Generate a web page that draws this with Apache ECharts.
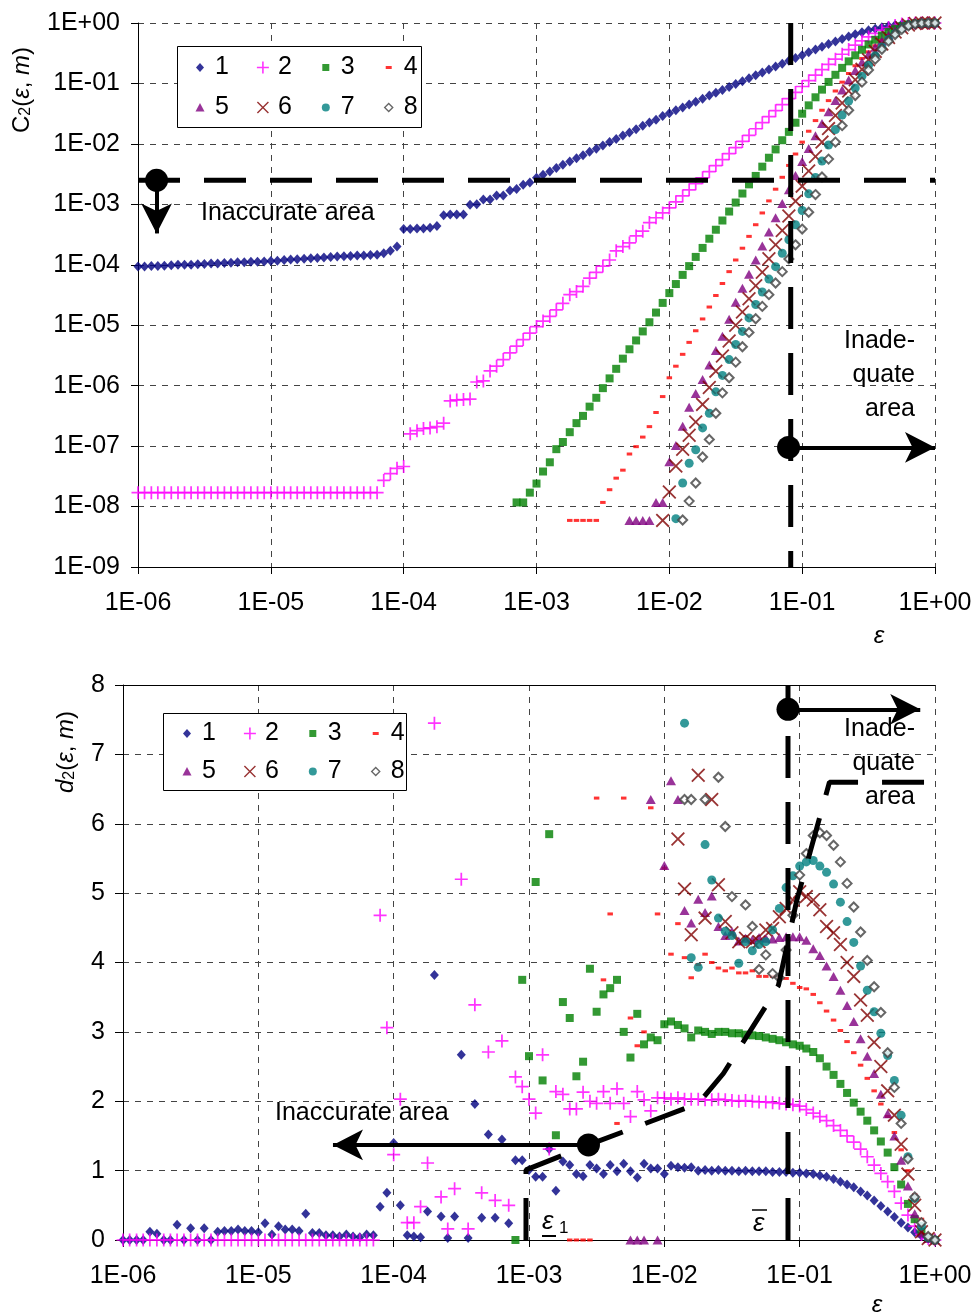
<!DOCTYPE html>
<html><head><meta charset="utf-8">
<script src="https://cdn.jsdelivr.net/npm/echarts@6/dist/echarts.min.js"></script>
<style>html,body{margin:0;padding:0;background:#fff}#c{width:977px;height:1315px}</style>
</head><body><div id="c"></div>
<script>
// ---- shared epsilon grid (20 points per decade) ----
const EPS = [
 1.00e-6,1.12e-6,1.26e-6,1.41e-6,1.58e-6,1.78e-6,2.00e-6,2.24e-6,2.51e-6,2.82e-6,3.16e-6,3.55e-6,3.98e-6,4.47e-6,5.01e-6,5.62e-6,6.31e-6,7.08e-6,7.94e-6,8.91e-6,
 1.00e-5,1.12e-5,1.26e-5,1.41e-5,1.58e-5,1.78e-5,2.00e-5,2.24e-5,2.51e-5,2.82e-5,3.16e-5,3.55e-5,3.98e-5,4.47e-5,5.01e-5,5.62e-5,6.31e-5,7.08e-5,7.94e-5,8.91e-5,
 1.00e-4,1.12e-4,1.26e-4,1.41e-4,1.58e-4,1.78e-4,2.00e-4,2.24e-4,2.51e-4,2.82e-4,3.16e-4,3.55e-4,3.98e-4,4.47e-4,5.01e-4,5.62e-4,6.31e-4,7.08e-4,7.94e-4,8.91e-4,
 1.00e-3,1.12e-3,1.26e-3,1.41e-3,1.58e-3,1.78e-3,2.00e-3,2.24e-3,2.51e-3,2.82e-3,3.16e-3,3.55e-3,3.98e-3,4.47e-3,5.01e-3,5.62e-3,6.31e-3,7.08e-3,7.94e-3,8.91e-3,
 1.00e-2,1.12e-2,1.26e-2,1.41e-2,1.58e-2,1.78e-2,2.00e-2,2.24e-2,2.51e-2,2.82e-2,3.16e-2,3.55e-2,3.98e-2,4.47e-2,5.01e-2,5.62e-2,6.31e-2,7.08e-2,7.94e-2,8.91e-2,
 0.100,0.112,0.126,0.141,0.158,0.178,0.200,0.224,0.251,0.282,0.316,0.355,0.398,0.447,0.501,0.562,0.631,0.708,0.794,0.891,
 1.00];
const NAMES = ['1','2','3','4','5','6','7','8'];

// ---- top chart: C2(eps, m) ----
const c2_1_start = 0;
const c2_1 = [
 9.4e-5,9.4e-5,9.5e-5,9.5e-5,9.6e-5,9.8e-5,1.0e-4,1.0e-4,1.0e-4,1.02e-4,
 1.03e-4,1.05e-4,1.05e-4,1.07e-4,1.08e-4,1.1e-4,1.1e-4,1.12e-4,1.12e-4,1.13e-4,
 1.15e-4,1.17e-4,1.2e-4,1.22e-4,1.24e-4,1.26e-4,1.28e-4,1.3e-4,1.32e-4,1.35e-4,
 1.37e-4,1.38e-4,1.4e-4,1.42e-4,1.43e-4,1.45e-4,1.47e-4,1.55e-4,1.7e-4,2.0e-4,
 3.9e-4,3.9e-4,4.0e-4,4.0e-4,4.1e-4,4.4e-4,6.6e-4,6.8e-4,6.8e-4,6.8e-4,
 9.8e-4,1.0e-3,1.2e-3,1.2e-3,1.4e-3,1.4e-3,1.7e-3,1.8e-3,2.1e-3,2.3e-3,
 2.75e-3,3.1e-3,3.5e-3,4.0e-3,4.5e-3,5.1e-3,5.8e-3,6.5e-3,7.4e-3,8.3e-3,
 9.4e-3,1.07e-2,1.2e-2,1.38e-2,1.55e-2,1.75e-2,2.0e-2,2.25e-2,2.5e-2,2.9e-2,
 3.2e-2,3.6e-2,4.0e-2,4.5e-2,5.0e-2,5.6e-2,6.3e-2,7.0e-2,7.8e-2,8.75e-2,
 9.8e-2,0.109,0.122,0.136,0.152,0.17,0.19,0.212,0.237,0.264,
 0.292,0.327,0.364,0.405,0.449,0.495,0.546,0.597,0.652,0.705,
 0.757,0.807,0.853,0.893,0.927,0.955,0.975,0.989,0.997,1.0,
 1.0];
const c2_2_start = 0;
const c2_2 = [
 1.7e-8,1.7e-8,1.7e-8,1.7e-8,1.7e-8,1.7e-8,1.7e-8,1.7e-8,1.7e-8,1.7e-8,
 1.7e-8,1.7e-8,1.7e-8,1.7e-8,1.7e-8,1.7e-8,1.7e-8,1.7e-8,1.7e-8,1.7e-8,
 1.7e-8,1.7e-8,1.7e-8,1.7e-8,1.7e-8,1.7e-8,1.7e-8,1.7e-8,1.7e-8,1.7e-8,
 1.7e-8,1.7e-8,1.7e-8,1.7e-8,1.7e-8,1.7e-8,1.7e-8,2.7e-8,3.5e-8,4.3e-8,
 4.6e-8,1.6e-7,1.8e-7,1.95e-7,2.0e-7,2.1e-7,2.4e-7,5.6e-7,5.8e-7,5.9e-7,
 6.0e-7,1.15e-6,1.2e-6,1.75e-6,2.1e-6,2.7e-6,3.5e-6,4.5e-6,5.8e-6,7.4e-6,
 9.5e-6,1.17e-5,1.4e-5,1.8e-5,2.3e-5,3.2e-5,3.6e-5,4.4e-5,6.0e-5,7.5e-5,
 9.5e-5,1.2e-4,1.7e-4,2.0e-4,2.3e-4,3.0e-4,3.6e-4,5.0e-4,6.0e-4,7.2e-4,
 8.7e-4,1.1e-3,1.38e-3,1.74e-3,2.19e-3,2.75e-3,3.47e-3,4.37e-3,5.5e-3,6.9e-3,
 8.7e-3,1.1e-2,1.38e-2,1.78e-2,2.24e-2,2.82e-2,3.55e-2,4.47e-2,5.6e-2,7.1e-2,
 8.9e-2,0.111,0.137,0.169,0.207,0.252,0.304,0.363,0.43,0.506,
 0.587,0.673,0.759,0.841,0.912,0.959,0.984,0.995,1,1,
 1];
const c2_3_start = 57;
const c2_3 = [
 1.17e-8,1.17e-8,1.7e-8,2.4e-8,3.8e-8,5.4e-8,8.9e-8,1.17e-7,1.7e-7,2.4e-7,
 3.16e-7,4.5e-7,6.3e-7,9.1e-7,1.32e-6,1.9e-6,2.8e-6,4.0e-6,5.6e-6,7.9e-6,
 1.12e-5,1.62e-5,2.34e-5,3.4e-5,4.8e-5,6.8e-5,9.5e-5,1.35e-4,1.9e-4,2.7e-4,
 3.8e-4,5.4e-4,7.6e-4,1.07e-3,1.51e-3,2.14e-3,2.95e-3,4.2e-3,5.9e-3,8.1e-3,
 1.15e-2,1.58e-2,2.24e-2,3.16e-2,4.34e-2,5.9e-2,7.9e-2,0.106,0.139,0.181,
 0.232,0.292,0.361,0.442,0.528,0.622,0.716,0.805,0.885,0.948,
 0.984,0.998,1,1];
const c2_4_start = 65;
const c2_4 = [
 5.9e-9,5.9e-9,5.9e-9,5.9e-9,5.9e-9,1.17e-8,1.9e-8,2.95e-8,4.0e-8,7.4e-8,
 9.8e-8,1.41e-7,2.1e-7,3.6e-7,6.6e-7,1.35e-6,2.1e-6,3.3e-6,5.2e-6,8.1e-6,
 1.27e-5,2.0e-5,3.1e-5,4.9e-5,7.7e-5,1.2e-4,1.88e-4,2.95e-4,4.6e-4,7.2e-4,
 1.14e-3,1.78e-3,2.8e-3,4.4e-3,6.8e-3,1.07e-2,1.62e-2,2.43e-2,3.6e-2,5.2e-2,
 7.5e-2,0.105,0.146,0.196,0.259,0.333,0.42,0.516,0.618,0.718,
 0.809,0.887,0.946,0.98,0.993,1];
const c2_5_start = 74;
const c2_5 = [
 5.9e-9,5.9e-9,5.9e-9,5.9e-9,1.17e-8,1.17e-8,5.5e-8,1.02e-7,2.14e-7,4.4e-7,
 7.4e-7,1.26e-6,2.2e-6,3.8e-6,6.6e-6,1.26e-5,2.4e-5,4.1e-5,7.0e-5,1.2e-4,
 2.05e-4,3.5e-4,6.0e-4,1.03e-3,1.75e-3,3.0e-3,5.1e-3,8.4e-3,1.36e-2,2.18e-2,
 3.4e-2,5.2e-2,7.8e-2,0.114,0.163,0.226,0.304,0.396,0.505,0.625,
 0.746,0.857,0.94,0.984,0.995,1,1];
const c2_6_start = 79;
const c2_6 = [
 5.9e-9,1.74e-8,4.7e-8,8.9e-8,1.51e-7,2.5e-7,4.9e-7,9.3e-7,1.74e-6,3.1e-6,
 5.5e-6,1.0e-5,1.66e-5,2.75e-5,4.5e-5,7.5e-5,1.26e-4,2.15e-4,3.7e-4,6.4e-4,
 1.13e-3,2.0e-3,3.55e-3,6.2e-3,1.07e-2,1.79e-2,2.95e-2,4.76e-2,7.5e-2,0.115,
 0.171,0.247,0.339,0.45,0.575,0.708,0.832,0.929,0.984,1,
 1,1];
const c2_7_start = 81;
const c2_7 = [
 6.3e-9,2.45e-8,5.2e-8,8.7e-8,2.0e-7,3.5e-7,7.9e-7,1.48e-6,2.7e-6,4.8e-6,
 7.9e-6,1.32e-5,2.2e-5,3.55e-5,5.8e-5,9.3e-5,1.55e-4,2.6e-4,4.6e-4,7.9e-4,
 1.49e-3,2.79e-3,5.2e-3,9.6e-3,1.73e-2,3.0e-2,5.1e-2,8.4e-2,0.132,0.20,
 0.288,0.40,0.531,0.673,0.809,0.908,0.966,0.989,0.996,1];
const c2_8_start = 82;
const c2_8 = [
 6.0e-9,1.23e-8,2.45e-8,6.6e-8,1.29e-7,3.5e-7,7.6e-7,1.35e-6,2.45e-6,4.4e-6,
 7.6e-6,1.28e-5,2.05e-5,3.2e-5,5.0e-5,7.7e-5,1.25e-4,2.14e-4,3.9e-4,7.4e-4,
 1.45e-3,2.84e-3,5.6e-3,1.07e-2,2.0e-2,3.6e-2,6.3e-2,0.105,0.167,0.252,
 0.367,0.50,0.646,0.785,0.897,0.964,0.991,0.998,1];

// ---- bottom chart: d2(eps, m) ----
const d2_1_start = 0;
const d2_1 = [
 0,0,0,0,0.12,0.09,0,0,0.22,0,
 0.17,0,0.17,0,0.12,0.13,0.13,0.15,0.13,0.13,
 0.11,0.24,0.08,0.2,0.15,0.15,0.13,0.38,0.1,0.1,
 0.07,0.07,0.05,0.08,0.05,0.04,0.08,0.07,0.48,0.68,
 1.4,0.5,0.07,0.05,0.04,0.41,3.82,0.34,0.03,0.34,
 2.67,0.03,1.96,0.32,1.52,0.32,1.45,0.24,1.15,1.15,
 1.01,0.91,0.91,1.31,0.71,1.13,1.08,0.95,0.92,1.08,
 1.03,0.95,1.08,0.99,1.1,0.99,0.9,1.1,1.03,1.03,
 0.95,1.07,1.05,1.04,1.05,1.0,1.01,1.0,1.01,1.0,
 1.0,0.99,1.0,0.99,0.99,0.99,0.98,0.98,0.98,0.97,
 0.97,0.96,0.95,0.93,0.91,0.88,0.84,0.8,0.76,0.7,
 0.64,0.57,0.49,0.41,0.33,0.25,0.18,0.11,0.06,0.02,
 0];
const d2_2_start = 0;
const d2_2 = [
 0,0,0,0,0,0,0,0,0,0,
 0,0,0,0,0,0,0,0,0,0,
 0,0,0,0,0,0,0,0,0,0,
 0,0,0,0,0,0,0,0,4.68,3.06,
 1.23,2.03,0.25,0.25,0.48,1.11,7.45,0.62,0.16,0.74,
 5.2,0.16,3.39,0.68,2.71,0.57,2.87,0.5,2.35,2.21,
 2.03,1.83,2.67,1.31,2.14,2.1,1.89,1.89,2.13,2.0,
 1.97,2.14,1.97,2.18,1.97,1.78,2.14,2.02,1.86,2.05,
 2.05,2.03,2.05,2.03,2.03,2.03,2.02,2.02,2.03,2.02,
 2.01,2.0,2.01,2.0,1.99,1.99,1.98,1.97,1.96,1.95,
 1.93,1.88,1.83,1.78,1.72,1.65,1.58,1.5,1.41,1.31,
 1.2,1.08,0.96,0.84,0.7,0.53,0.36,0.2,0.08,0.02,
 0];
const d2_3_start = 58;
const d2_3 = [
 0,3.75,2.65,5.16,2.3,5.85,1.51,3.43,3.2,2.36,
 2.57,3.91,3.29,3.54,3.63,3.75,3.0,2.63,3.26,2.82,
 2.92,2.88,3.11,3.15,3.1,3.05,2.92,3.02,3.0,2.97,
 3.0,3.0,2.98,2.98,2.96,2.95,2.94,2.92,2.9,2.88,
 2.85,2.82,2.8,2.76,2.71,2.62,2.5,2.38,2.25,2.12,
 1.98,1.85,1.72,1.58,1.42,1.26,1.05,0.8,0.52,0.3,
 0.12,0.03,0];
const d2_4_start = 66;
const d2_4 = [
 0,0,0,0,
 6.37,3.75,4.7,1.68,6.37,3.2,2.8,3.0,6.23,4.7,
 5.36,4.12,4.56,4.07,3.78,3.97,4.12,4.0,3.92,3.88,
 3.92,3.85,3.85,3.88,3.8,3.8,3.8,3.78,3.77,3.7,
 3.64,3.62,3.54,3.42,3.3,3.17,3.02,2.86,2.7,2.52,
 2.33,2.15,1.96,1.78,1.55,1.3,1.0,0.65,0.3,0.08,
 0];
const d2_5_start = 75;
const d2_5 = [
 0,0,0,6.35,0,
 5.4,6.62,6.35,4.75,4.57,4.91,4.72,4.96,4.52,4.39,
 4.45,4.31,4.35,4.33,4.36,4.35,4.34,4.36,4.37,4.37,
 4.37,4.32,4.2,4.1,3.95,3.8,3.6,3.38,3.15,2.9,
 2.65,2.4,2.1,1.82,1.5,1.15,0.78,0.38,0.1,0.02,
 0];
const d2_6_start = 82;
const d2_6 = [
 5.78,5.06,4.4,6.7,4.64,6.35,5.12,4.59,4.43,4.3,
 4.35,4.3,4.3,4.47,4.49,4.66,4.78,4.9,5.02,4.95,
 4.9,4.76,4.52,4.43,4.26,4.0,3.8,3.46,3.24,2.85,
 2.5,2.15,1.8,1.38,0.95,0.5,0.12,0.02,0];
const d2_7_start = 83;
const d2_7 = [
 7.45,4.07,3.93,5.7,5.19,4.64,4.45,4.39,3.99,4.3,
 4.17,4.26,4.3,4.47,4.78,5.08,5.25,5.39,5.45,5.47,
 5.39,5.3,5.13,4.87,4.59,4.29,3.95,3.6,3.29,2.98,
 2.66,2.3,1.8,1.2,0.6,0.2,0.03,0];
const d2_8_start = 83;
const d2_8 = [
 6.35,6.35,null,6.35,null,6.67,5.96,4.95,null,4.83,
 4.52,3.9,4.11,3.84,3.78,4.18,4.68,5.26,5.57,5.83,
 5.87,5.83,5.69,5.45,5.14,4.8,4.44,4.03,3.65,3.28,
 2.7,2.2,1.68,1.17,0.62,0.25,0.05,0];

// ---- annotation values (data coordinates) ----
const EPS_BAR = 0.082;            // vertical dashed line (eps bar)
const EPS_1 = 9.5e-4;             // eps_1
const C2_LIMIT = 2.5e-3;          // horizontal dashed line on top chart
const kneeLine = [[EPS_1,0],[EPS_1,1.01],[2.75e-3,1.37],[1.79e-2,1.97],[2.73e-2,2.40],[5.88e-2,3.43],[6.97e-2,3.67],[9.53e-2,4.9],[0.166,6.6],[1,6.6]];

const FONT = "'Liberation Sans', Arial, Helvetica, sans-serif";
const COLORS = ['#000080','#FF00FF','#008000','#FF0000','#800080','#800000','#008080','#404040'];
const PLUS = 'path://M5.2,0H6.8V5.2H12V6.8H6.8V12H5.2V6.8H0V5.2H5.2Z';
const CROSS = 'path://M0,1.1L1.1,0L6,4.9L10.9,0L12,1.1L7.1,6L12,10.9L10.9,12L6,7.1L1.1,12L0,10.9L4.9,6Z';
const SYMBOLS = ['diamond', PLUS, 'rect', 'rect', 'triangle', CROSS, 'circle', 'emptyDiamond'];
const SIZES = [[9,10], 13, 8, [5.5,3], [10,9], 14, 9, 9];
const ICONS = [
 'path://M0,0M20,20M10,5.5L14,10L10,14.5L6,10Z',
 'path://M0,0M20,20M9.2,4H10.8V9.2H16V10.8H10.8V16H9.2V10.8H4V9.2H9.2Z',
 'path://M0,0M20,20M6.5,6.5H13.5V13.5H6.5Z',
 'path://M0,0M20,20M7,8.5H13V11.5H7Z',
 'path://M0,0M20,20M10,5.5L14.5,14L5.5,14Z',
 'path://M0,0M20,20M4,5L5,4L10,9L15,4L16,5L11,10L16,15L15,16L10,11L5,16L4,15L9,10Z',
 'path://M0,0M20,20M14,10A4,4,0,1,1,6,10A4,4,0,1,1,14,10Z',
 'path://M0,0M20,20M10,5L15,10L10,15L5,10ZM10,6.9L6.9,10L10,13.1L13.1,10Z'
];

const TOP = [[c2_1_start,c2_1],[c2_2_start,c2_2],[c2_3_start,c2_3],[c2_4_start,c2_4],[c2_5_start,c2_5],[c2_6_start,c2_6],[c2_7_start,c2_7],[c2_8_start,c2_8]];
const BOT = [[d2_1_start,d2_1],[d2_2_start,d2_2],[d2_3_start,d2_3],[d2_4_start,d2_4],[d2_5_start,d2_5],[d2_6_start,d2_6],[d2_7_start,d2_7],[d2_8_start,d2_8]];

function pts(start, arr) {
  const out = [];
  arr.forEach((v, k) => { const x = EPS[start + k]; if (v !== null && x !== undefined) out.push([x, v]); });
  return out;
}
function fmtE(v) {
  const e = Math.round(Math.log10(v));
  return '1E' + (e < 0 ? '-' : '+') + String(Math.abs(e)).padStart(2, '0');
}

const gridLine = { show: true, lineStyle: { color: '#444', width: 1, type: [6, 6] } };
const labelStyle = { color: '#000', fontSize: 25, fontFamily: FONT };

function logX(gridIndex) {
  return {
    type: 'log', logBase: 10, gridIndex, min: 1e-6, max: 1, splitNumber: 10,
    axisLine: { show: true, onZero: false, lineStyle: { color: '#000', width: 1 } },
    axisTick: { show: true, inside: false, length: 7, lineStyle: { color: '#000' } },
    minorTick: { show: false },
    axisLabel: Object.assign({ formatter: fmtE, margin: 24, showMinLabel: true, showMaxLabel: true, hideOverlap: false }, labelStyle),
    splitLine: Object.assign({ showMinLine: true, showMaxLine: true }, gridLine)
  };
}

const series = [];
for (let k = 0; k < 8; k++) {
  const common = { type: 'scatter', name: NAMES[k], symbol: SYMBOLS[k], symbolSize: SIZES[k],
    itemStyle: { color: COLORS[k] }, animation: false, silent: true, z: 2 + k * 0.01 };
  series.push(Object.assign({}, common, { xAxisIndex: 0, yAxisIndex: 0, data: pts(TOP[k][0], TOP[k][1]) }));
  series.push(Object.assign({}, common, { xAxisIndex: 1, yAxisIndex: 1, data: pts(BOT[k][0], BOT[k][1]) }));
}

const thick = { color: '#000', width: 5, type: [42, 24] };
const arrowStyle = { color: '#000', width: 4, type: 'solid' };
function arrowML(items) {
  return { silent: true, animation: false, symbol: ['circle', 'arrow'], symbolSize: [23, 30],
    label: { show: false }, lineStyle: arrowStyle, emphasis: { disabled: true }, data: items };
}
// top chart annotations
series.push({ type: 'line', xAxisIndex: 0, yAxisIndex: 0, data: [[1e-6, C2_LIMIT], [1, C2_LIMIT]], symbol: 'none',
  lineStyle: thick, z: 10, silent: true, animation: false,
  markLine: arrowML([
    [{ coord: [1.38e-6, C2_LIMIT] }, { coord: [1.38e-6, 3.3e-4] }],
    [{ coord: [0.079, 9.5e-8] }, { coord: [1.0, 9.5e-8] }]
  ]) });
series.push({ type: 'line', xAxisIndex: 0, yAxisIndex: 0, data: [[EPS_BAR, 1], [EPS_BAR, 1e-9]], symbol: 'none',
  lineStyle: thick, z: 10, silent: true, animation: false });
// bottom chart annotations
series.push({ type: 'line', xAxisIndex: 1, yAxisIndex: 1, data: [[EPS_BAR, 0], [EPS_BAR, 8]], symbol: 'none',
  lineStyle: thick, z: 10, silent: true, animation: false,
  markLine: arrowML([
    [{ coord: [EPS_BAR, 7.65] }, { coord: [0.778, 7.65] }],
    [{ coord: [2.75e-3, 1.37] }, { coord: [3.56e-5, 1.37] }]
  ]) });
series.push({ type: 'line', xAxisIndex: 1, yAxisIndex: 1, data: kneeLine, symbol: 'none',
  lineStyle: thick, z: 10, silent: true, animation: false });

function legendRow(names, iconIdx, left, top) {
  return {
    show: true, orient: 'horizontal', left, top, padding: 0, itemWidth: 20, itemHeight: 20, itemGap: 24,
    selectedMode: false, z: 6,
    itemStyle: { borderWidth: 0 },
    textStyle: { color: '#000', fontSize: 25, fontFamily: FONT },
    data: names.map((n, j) => ({ name: n, icon: ICONS[iconIdx + j] }))
  };
}

const richTitle = {
  a: { fontSize: 24, fontFamily: FONT, fill: '#000' },
  b: { fontSize: 16, fontFamily: FONT, fill: '#000', lineHeight: 12, verticalAlign: 'bottom' },
  c: { fontSize: 24, fontFamily: FONT, fontStyle: 'italic', fill: '#000' }
};
const txt = (x, y, text, extra) => ({ type: 'text', x, y, z: 30,
  style: Object.assign({ text, fill: '#000', fontSize: 25, fontFamily: FONT }, extra || {}) });

const option = {
  animation: false,
  backgroundColor: '#fff',
  grid: [
    { left: 138, top: 23, width: 797, height: 544, outerBoundsMode: 'none', containLabel: false },
    { left: 123, top: 685, width: 812, height: 555, outerBoundsMode: 'none', containLabel: false }
  ],
  xAxis: [
    logX(0),
    logX(1),
    { type: 'log', logBase: 10, gridIndex: 1, position: 'top', min: 1e-6, max: 1,
      axisLine: { show: true, onZero: false, lineStyle: { color: '#000', width: 1 } },
      axisTick: { show: false }, axisLabel: { show: false }, splitLine: { show: false } }
  ],
  yAxis: [
    { type: 'log', logBase: 10, gridIndex: 0, min: 1e-9, max: 1, splitNumber: 10,
      axisLine: { show: true, onZero: false, lineStyle: { color: '#000', width: 1 } },
      axisTick: { show: true, inside: false, length: 7, lineStyle: { color: '#000' } },
      minorTick: { show: false },
      axisLabel: Object.assign({ formatter: fmtE, margin: 18, showMinLabel: true, showMaxLabel: true, hideOverlap: false }, labelStyle),
      splitLine: Object.assign({ showMinLine: true, showMaxLine: true }, gridLine) },
    { type: 'value', gridIndex: 1, min: 0, max: 8, interval: 1,
      axisLine: { show: true, onZero: false, lineStyle: { color: '#000', width: 1 } },
      axisTick: { show: true, inside: false, length: 8, lineStyle: { color: '#000' } },
      axisLabel: Object.assign({ margin: 18, showMinLabel: true, showMaxLabel: true }, labelStyle),
      splitLine: Object.assign({ showMinLine: true, showMaxLine: true }, gridLine) }
  ],
  legend: [
    legendRow(['1','2','3','4'], 0, 190, 55),
    legendRow(['5','6','7','8'], 4, 190, 95),
    legendRow(['1','2','3','4'], 0, 177, 721),
    legendRow(['5','6','7','8'], 4, 177, 759)
  ],
  graphic: [
    { type: 'rect', z: 3, shape: { x: 177.5, y: 46.5, width: 244, height: 81 }, style: { fill: '#fff', stroke: '#000', lineWidth: 1 } },
    { type: 'rect', z: 3, shape: { x: 163.5, y: 713.5, width: 243, height: 77 }, style: { fill: '#fff', stroke: '#000', lineWidth: 1 } },
    { type: 'text', x: 22, y: 90, rotation: Math.PI / 2, z: 30,
      style: { text: '{a|C}{b|2}{a|(}{c|ε}{a|, }{c|m}{a|)}', rich: richTitle, align: 'center', verticalAlign: 'middle', fill: '#000' } },
    { type: 'text', x: 66, y: 752, rotation: Math.PI / 2, z: 30,
      style: { text: '{c|d}{b|2}{a|(}{c|ε}{a|, }{c|m}{a|)}', rich: richTitle, align: 'center', verticalAlign: 'middle', fill: '#000' } },
    txt(879, 636, 'ε', { fontStyle: 'italic', fontSize: 24, align: 'center', verticalAlign: 'middle' }),
    txt(877, 1305, 'ε', { fontStyle: 'italic', fontSize: 24, align: 'center', verticalAlign: 'middle' }),
    txt(201, 213, 'Inaccurate area', { align: 'left', verticalAlign: 'middle' }),
    txt(275, 1113, 'Inaccurate area', { align: 'left', verticalAlign: 'middle' }),
    txt(915, 324, 'Inade-\nquate\narea', { align: 'right', verticalAlign: 'top', lineHeight: 34 }),
    txt(915, 712, 'Inade-\nquate\narea', { align: 'right', verticalAlign: 'top', lineHeight: 34 }),
    txt(542, 1222, 'ε', { fontStyle: 'italic', fontSize: 26, align: 'left', verticalAlign: 'middle' }),
    txt(559, 1228, '1', { fontSize: 17, align: 'left', verticalAlign: 'middle' }),
    { type: 'line', z: 30, shape: { x1: 542, y1: 1236, x2: 556, y2: 1236 }, style: { stroke: '#000', lineWidth: 2 } },
    txt(753, 1224, 'ε', { fontStyle: 'italic', fontSize: 26, align: 'left', verticalAlign: 'middle' }),
    { type: 'line', z: 30, shape: { x1: 752, y1: 1210, x2: 767, y2: 1210 }, style: { stroke: '#000', lineWidth: 1.5 } }
  ],
  series
};

const chart = echarts.init(document.getElementById('c'), null, { renderer: 'canvas' });
chart.setOption(option);
</script>
</body></html>
